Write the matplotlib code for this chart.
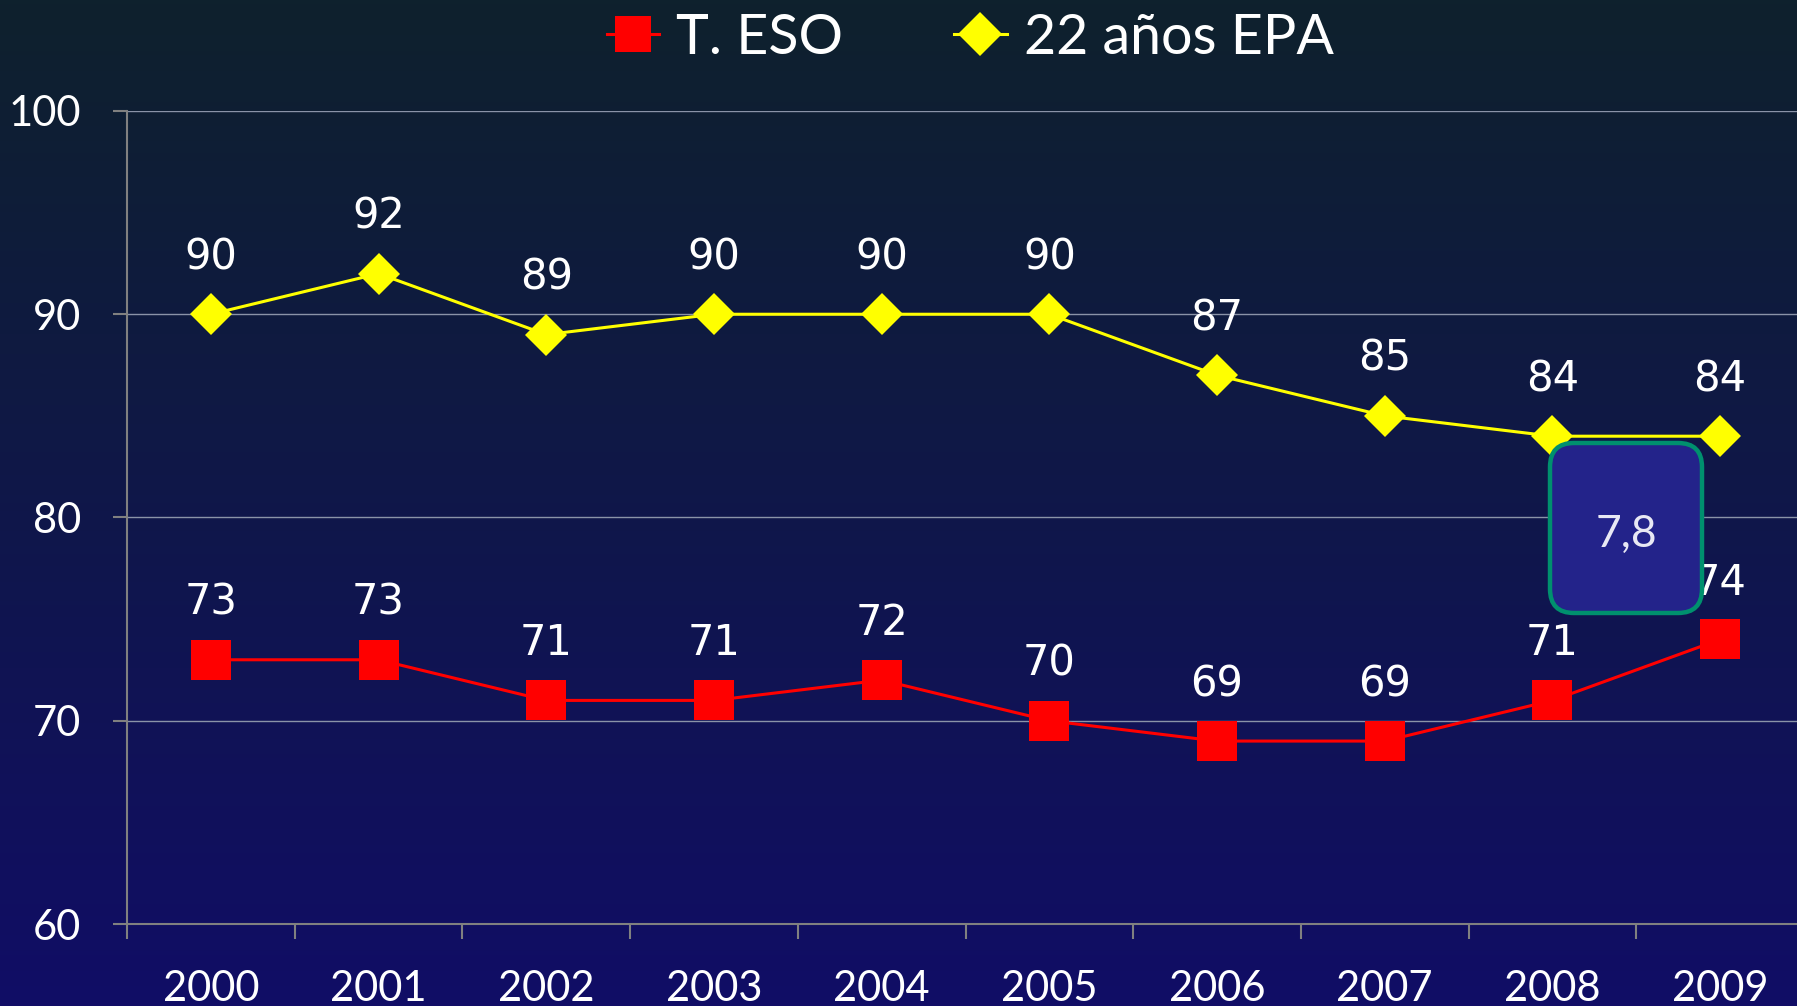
import numpy as np
import matplotlib.pyplot as plt
from matplotlib.lines import Line2D
from matplotlib.patches import FancyBboxPatch

years = ["2000", "2001", "2002", "2003", "2004", "2005", "2006", "2007", "2008", "2009"]
eso = [73, 73, 71, 71, 72, 70, 69, 69, 71, 74]
epa = [90, 92, 89, 90, 90, 90, 87, 85, 84, 84]
box_text = "7,8"

W, H = 1797, 1006
fig = plt.figure(figsize=(W / 100, H / 100), dpi=100)

# background gradient (dark teal at top to deep blue at bottom)
bg = fig.add_axes([0, 0, 1, 1], zorder=-10)
top = np.array([14, 33, 45]) / 255
bot = np.array([17, 13, 102]) / 255
t = np.linspace(0, 1, 256)[:, None]
grad = top[None, :] * (1 - t) + bot[None, :] * t
bg.imshow(grad[:, None, :], aspect="auto", extent=[0, 1, 0, 1])
bg.axis("off")

# axes: left edge at 127px, plot runs off the right edge
ax = fig.add_axes([127 / W, 1 - 924 / H, 1677 / W, (924 - 111) / H])
ax.set_facecolor("none")
x = np.arange(len(years))

ax.plot(x, eso, color="#ff0000", lw=2.2, marker="s", ms=29, mew=0,
        mfc="#ff0000", zorder=3)
ax.plot(x, epa, color="#ffff00", lw=2.2, marker="D", ms=21.5, mew=0,
        mfc="#ffff00", zorder=3)

lab_font = dict(fontsize=30, color="white", ha="center", va="center",
                family="DejaVu Sans")
for xi, v in zip(x, eso):
    ax.annotate(str(v), (xi, v), xytext=(0, 41), textcoords="offset points",
                zorder=4, **lab_font)
for xi, v in zip(x, epa):
    ax.annotate(str(v), (xi, v), xytext=(0, 41), textcoords="offset points",
                zorder=4, **lab_font)

ax.set_xlim(-0.5, 9.5)
ax.set_ylim(60, 100)
ax.set_yticks([60, 70, 80, 90, 100])
ax.grid(axis="y", color="#8a93a8", lw=1)
ax.set_axisbelow(True)

ax.set_xticks(x)
ax.set_xticklabels(years)
ax.set_xticks(np.arange(-0.5, 9.6, 1), minor=True)
ax.tick_params(axis="x", which="major", length=0, pad=33, labelsize=30,
               labelcolor="white")
ax.tick_params(axis="x", which="minor", length=11, width=1.5, color="#808080")
ax.tick_params(axis="y", length=10, width=1.5, color="#808080", pad=23,
               labelsize=30, labelcolor="white")
for lbl in ax.get_xticklabels() + ax.get_yticklabels():
    lbl.set_family("Lato")

for side in ["top", "right"]:
    ax.spines[side].set_visible(False)
for side in ["left", "bottom"]:
    ax.spines[side].set_color("#808080")
    ax.spines[side].set_linewidth(1.5)

# rounded annotation box
px_x = 1677 / 10
px_y = (924 - 111) / 40
bx0 = (1550 - 127) / px_x - 0.5
bx1 = (1702 - 127) / px_x - 0.5
by0 = 100 - (613 - 111) / px_y
by1 = 100 - (443 - 111) / px_y
r = 24 / px_x
box = FancyBboxPatch((bx0, by0), bx1 - bx0, by1 - by0,
                     boxstyle=f"round,pad=0,rounding_size={r}",
                     mutation_aspect=px_x / px_y,
                     fc="#23238a", ec="#00906e", lw=3.2, zorder=5)
ax.add_patch(box)
ax.text((bx0 + bx1) / 2, (by0 + by1) / 2 - 0.3, box_text, fontsize=32,
        color="#e8e8f4", ha="center", va="center", family="Lato",
        fontweight="normal", zorder=6)

handles = [
    Line2D([], [], color="#ff0000", lw=2.2, marker="s", ms=26, mew=0),
    Line2D([], [], color="#ffff00", lw=2.2, marker="D", ms=22, mew=0),
]
leg = fig.legend(handles, ["T. ESO", "22 años EPA"], loc="center",
                 bbox_to_anchor=(970 / W, 1 - 38 / H), ncol=2, frameon=False,
                 handlelength=0.95, handletextpad=0.3, columnspacing=2.0,
                 prop={"family": "Lato", "size": 40})
for txt in leg.get_texts():
    txt.set_color("white")

fig.savefig("out.png", dpi=100)
